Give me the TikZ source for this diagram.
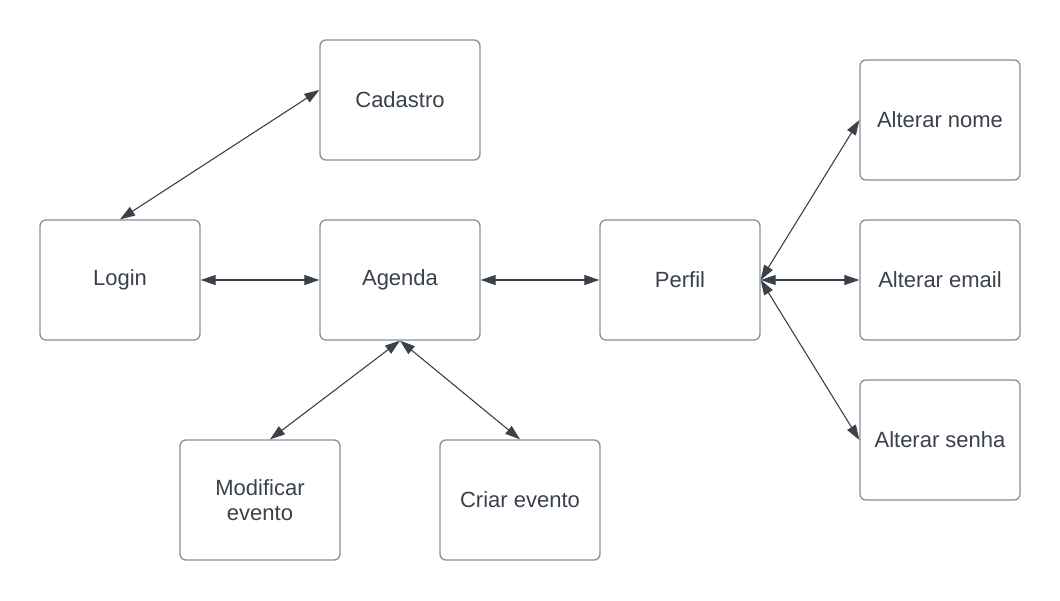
\documentclass[tikz,border=0pt]{standalone}
\usepackage{fontspec}
\setmainfont{Liberation Sans}
\usetikzlibrary{arrows.meta}
\definecolor{linec}{HTML}{3A414A}
\definecolor{boxc}{HTML}{8A8F96}
\definecolor{textc}{HTML}{3A414A}
\begin{document}
\begin{tikzpicture}[x=1pt,y=-1pt,
  box/.style={draw=boxc,line width=1.3pt,rounded corners=6pt,minimum width=160pt,minimum height=120pt,
    inner sep=0pt,align=center,text=textc,font=\fontsize{22}{25}\selectfont,fill=white},
  conn/.style={draw=linec,line width=1.1pt,{Triangle[length=15pt,width=10pt]}-{Triangle[length=15pt,width=10pt]}}]
\useasboundingbox (0,0) rectangle (1060,600);
\node[box] (cad) at (400,100) {Cadastro};
\node[box] (login) at (120,280) {Login};
\node[box] (agenda) at (400,280) {Agenda};
\node[box] (perfil) at (680,280) {Perfil};
\node[box] (nome) at (940,120) {Alterar nome};
\node[box] (email) at (940,280) {Alterar email};
\node[box] (senha) at (940,440) {Alterar senha};
\node[box] (mod) at (260,500) {Modificar\\evento};
\node[box] (criar) at (520,500) {Criar evento};
\coordinate (cadL) at ([yshift=10pt]cad.west);
\coordinate (modT) at ([xshift=10pt]mod.north);
\draw[conn] (login.north) -- (cadL);
\draw[conn] (login.east) -- (agenda.west);
\draw[conn] (agenda.east) -- (perfil.west);
\draw[conn] (agenda.south) -- (modT);
\draw[conn] (agenda.south) -- (criar.north);
\draw[conn] (perfil.east) -- (nome.west);
\draw[conn] (perfil.east) -- (email.west);
\draw[conn] (perfil.east) -- (senha.west);
\end{tikzpicture}
\end{document}
